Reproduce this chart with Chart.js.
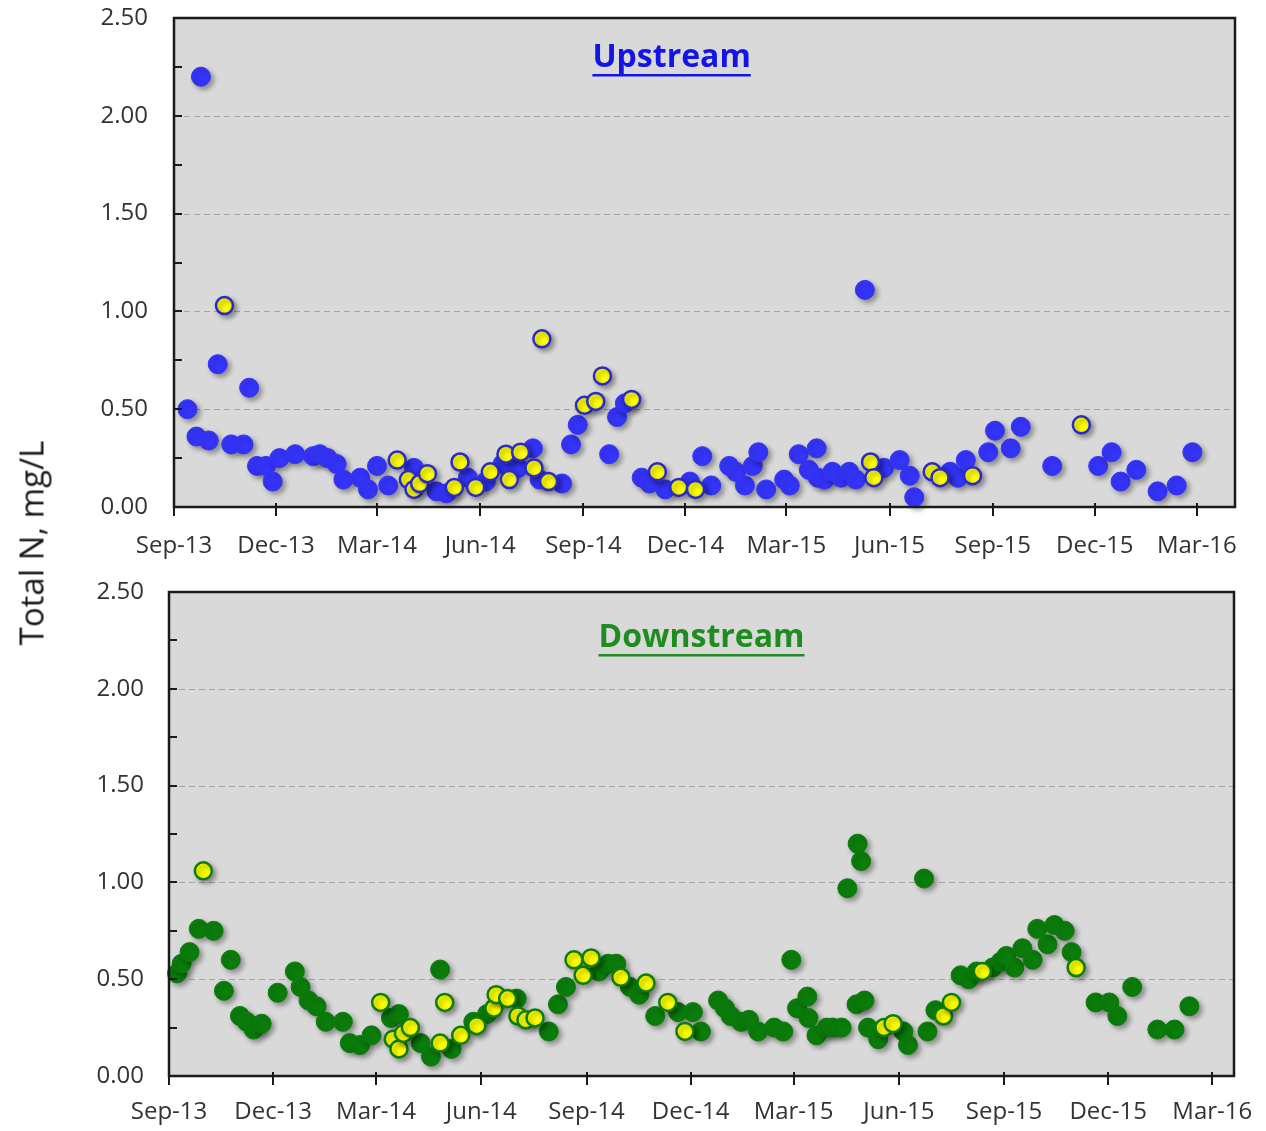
<!DOCTYPE html>
<html>
<head>
<meta charset="utf-8">
<script src="https://cdn.jsdelivr.net/npm/chart.js@4.4.0/dist/chart.umd.min.js"></script>
<style>
  body { margin: 0; background: #fff; width: 1266px; height: 1131px; position: relative; overflow: hidden; font-family: "Open Sans", sans-serif; }
  #upCanvas { position: absolute; left: 0; top: 0; }
  #downCanvas { position: absolute; left: 0; top: 570px; }
  #yTitle { position: absolute; left: 31px; top: 543px; transform: translate(-50%, -50%) rotate(-90deg); font-size: 33px; color: #1a1a1a; white-space: nowrap; }
</style>
</head>
<body>
<canvas id="upCanvas" width="1266" height="570"></canvas>
<canvas id="downCanvas" width="1266" height="561"></canvas>
<div id="yTitle">Total N, mg/L</div>
<script>
// Axis ticks
const xTickDates = ["2013-09-01", "2013-12-01", "2014-03-01", "2014-06-01", "2014-09-01", "2014-12-01",
  "2015-03-01", "2015-06-01", "2015-09-01", "2015-12-01", "2016-03-01"]
const yTickValues = [0, 0.5, 1, 1.5, 2, 2.5]
const yMinorTicks = [0.25, 0.5, 0.75, 1, 1.25, 1.5, 1.75, 2, 2.25]
const yGridValues = [0.5, 1, 1.5, 2]
const monthNames = ["Jan", "Feb", "Mar", "Apr", "May", "Jun", "Jul", "Aug", "Sep", "Oct", "Nov", "Dec"]

// Upstream samples (blue)
const upBlueDates = ["2013-09-13", "2013-09-21", "2013-09-25", "2013-10-02", "2013-10-10", "2013-10-22", "2013-11-02",
  "2013-11-07", "2013-11-14", "2013-11-22", "2013-11-28", "2013-12-04", "2013-12-18", "2014-01-03", "2014-01-09",
  "2014-01-16", "2014-01-24", "2014-01-30", "2014-02-14", "2014-02-21", "2014-03-01", "2014-03-11", "2014-04-03",
  "2014-04-23", "2014-05-02", "2014-05-21", "2014-06-06", "2014-06-21", "2014-07-05", "2014-07-18", "2014-07-24",
  "2014-08-13", "2014-08-21", "2014-08-27", "2014-09-24", "2014-10-01", "2014-10-08", "2014-10-23", "2014-10-30",
  "2014-11-13", "2014-12-05", "2014-12-16", "2014-12-24", "2015-01-09", "2015-01-15", "2015-01-23", "2015-01-30",
  "2015-02-04", "2015-02-11", "2015-02-27", "2015-03-04", "2015-03-12", "2015-03-21", "2015-03-28", "2015-03-29",
  "2015-04-04", "2015-04-11", "2015-04-19", "2015-04-26", "2015-05-02", "2015-05-10", "2015-05-27", "2015-06-10",
  "2015-06-19", "2015-06-23", "2015-07-25", "2015-08-01", "2015-08-08", "2015-08-28", "2015-09-03", "2015-09-17",
  "2015-09-26", "2015-10-24", "2015-12-04", "2015-12-16", "2015-12-24", "2016-01-07", "2016-01-26", "2016-02-12",
  "2016-02-26"]
const upBlueValues = [0.50, 0.36, 2.20, 0.34, 0.73, 0.32, 0.32,
  0.61, 0.21, 0.21, 0.13, 0.25, 0.27, 0.26, 0.27,
  0.25, 0.22, 0.14, 0.15, 0.09, 0.21, 0.11, 0.20,
  0.08, 0.07, 0.15, 0.13, 0.22, 0.20, 0.30, 0.14,
  0.12, 0.32, 0.42, 0.27, 0.46, 0.53, 0.15, 0.12,
  0.09, 0.13, 0.26, 0.11, 0.21, 0.18, 0.11, 0.21,
  0.28, 0.09, 0.14, 0.11, 0.27, 0.19, 0.30, 0.15,
  0.14, 0.18, 0.15, 0.18, 0.14, 1.11, 0.20, 0.24,
  0.16, 0.05, 0.18, 0.15, 0.24, 0.28, 0.39, 0.30,
  0.41, 0.21, 0.21, 0.28, 0.13, 0.19, 0.08, 0.11,
  0.28]

// Upstream samples (yellow)
const upYellowDates = ["2013-10-16", "2014-03-19", "2014-03-29", "2014-04-03", "2014-04-08", "2014-04-15", "2014-05-09",
  "2014-05-14", "2014-05-28", "2014-06-10", "2014-06-24", "2014-06-27", "2014-07-07", "2014-07-19", "2014-07-26",
  "2014-08-01", "2014-09-02", "2014-09-12", "2014-09-18", "2014-10-14", "2014-11-06", "2014-11-25", "2014-12-10",
  "2015-05-15", "2015-05-18", "2015-07-09", "2015-07-16", "2015-08-14", "2015-11-19"]
const upYellowValues = [1.03, 0.24, 0.14, 0.09, 0.12, 0.17, 0.10,
  0.23, 0.10, 0.18, 0.27, 0.14, 0.28, 0.20, 0.86,
  0.13, 0.52, 0.54, 0.67, 0.55, 0.18, 0.10, 0.09,
  0.23, 0.15, 0.18, 0.15, 0.16, 0.42]

// Downstream samples (green)
const downGreenDates = ["2013-09-08", "2013-09-12", "2013-09-19", "2013-09-27", "2013-10-10", "2013-10-19", "2013-10-25",
  "2013-11-02", "2013-11-08", "2013-11-14", "2013-11-21", "2013-12-05", "2013-12-20", "2013-12-25", "2014-01-01",
  "2014-01-08", "2014-01-16", "2014-01-31", "2014-02-06", "2014-02-15", "2014-02-25", "2014-03-14", "2014-03-21",
  "2014-04-09", "2014-04-18", "2014-04-26", "2014-05-06", "2014-05-25", "2014-06-06", "2014-07-02", "2014-07-30",
  "2014-08-07", "2014-08-14", "2014-09-12", "2014-09-20", "2014-09-27", "2014-10-09", "2014-10-17", "2014-10-31",
  "2014-11-20", "2014-12-03", "2014-12-10", "2014-12-25", "2014-12-31", "2015-01-05", "2015-01-14", "2015-01-21",
  "2015-01-29", "2015-02-12", "2015-02-20", "2015-02-27", "2015-03-04", "2015-03-13", "2015-03-14", "2015-03-21",
  "2015-03-30", "2015-04-04", "2015-04-12", "2015-04-17", "2015-04-25", "2015-04-26", "2015-04-29", "2015-05-02",
  "2015-05-05", "2015-05-14", "2015-06-05", "2015-06-09", "2015-06-23", "2015-06-26", "2015-07-03", "2015-07-25",
  "2015-08-01", "2015-08-08", "2015-08-22", "2015-08-29", "2015-09-03", "2015-09-10", "2015-09-17", "2015-09-26",
  "2015-09-30", "2015-10-09", "2015-10-15", "2015-10-24", "2015-10-30", "2015-11-20", "2015-12-02", "2015-12-09",
  "2015-12-22", "2016-01-13", "2016-01-28", "2016-02-10"]
const downGreenValues = [0.53, 0.58, 0.64, 0.76, 0.75, 0.44, 0.60,
  0.31, 0.28, 0.24, 0.27, 0.43, 0.54, 0.46, 0.39,
  0.36, 0.28, 0.28, 0.17, 0.16, 0.21, 0.30, 0.32,
  0.17, 0.10, 0.55, 0.14, 0.28, 0.32, 0.40, 0.23,
  0.37, 0.46, 0.54, 0.58, 0.58, 0.46, 0.42, 0.31,
  0.33, 0.33, 0.23, 0.39, 0.35, 0.31, 0.28, 0.29,
  0.23, 0.25, 0.23, 0.60, 0.35, 0.41, 0.30, 0.21,
  0.25, 0.25, 0.25, 0.97, 0.37, 1.20, 1.11, 0.39,
  0.25, 0.19, 0.23, 0.16, 1.02, 0.23, 0.34, 0.52,
  0.50, 0.54, 0.56, 0.59, 0.62, 0.56, 0.66, 0.60,
  0.76, 0.68, 0.78, 0.75, 0.64, 0.38, 0.38, 0.31,
  0.46, 0.24, 0.24, 0.36]

// Downstream samples (yellow)
const downYellowDates = ["2013-10-01", "2014-03-05", "2014-03-16", "2014-03-21", "2014-03-25", "2014-03-31", "2014-04-30",
  "2014-04-26", "2014-05-14", "2014-05-28", "2014-06-12", "2014-06-14", "2014-06-24", "2014-07-03", "2014-07-10",
  "2014-07-18", "2014-08-21", "2014-08-29", "2014-09-05", "2014-10-01", "2014-10-23", "2014-11-11", "2014-11-26",
  "2015-05-19", "2015-05-27", "2015-07-10", "2015-07-17", "2015-08-13", "2015-11-03"]
const downYellowValues = [1.06, 0.38, 0.19, 0.14, 0.22, 0.25, 0.38,
  0.17, 0.21, 0.26, 0.35, 0.42, 0.40, 0.31, 0.29,
  0.30, 0.60, 0.52, 0.61, 0.51, 0.48, 0.38, 0.23,
  0.25, 0.27, 0.31, 0.38, 0.54, 0.56]

const toPoints = (dates, values) => dates.map((d, i) => ({ x: Date.parse(d), y: values[i] }))

function fmtDate(ms) {
  const d = new Date(ms)
  return monthNames[d.getUTCMonth()] + "-" + String(d.getUTCFullYear()).slice(2)
}

// Grey plot area, dashed grid, black frame, inside y ticks, x ticks, inner title
const framePlugin = {
  id: "frame",
  beforeDraw(chart) {
    const { ctx, chartArea: a } = chart
    ctx.save()
    ctx.fillStyle = "#D9D9D9"
    ctx.fillRect(a.left, a.top, a.width, a.height)
    ctx.restore()
  },
  beforeDatasetsDraw(chart, args, o) {
    const { ctx, chartArea: a, scales } = chart
    ctx.save()
    ctx.strokeStyle = "#A3A3A3"
    ctx.lineWidth = 1
    ctx.setLineDash([6, 4])
    yGridValues.forEach(v => {
      const py = Math.round(scales.y.getPixelForValue(v)) + 0.5
      ctx.beginPath(); ctx.moveTo(a.left, py); ctx.lineTo(a.right, py); ctx.stroke()
    })
    ctx.setLineDash([])
    // title
    ctx.font = "bold 32px 'Open Sans'"
    ctx.fillStyle = o.color
    ctx.textAlign = "center"
    ctx.textBaseline = "middle"
    const tx = a.left + a.width * o.xFrac, ty = a.top + o.yOff
    ctx.fillText(o.text, tx, ty)
    const w = ctx.measureText(o.text).width
    ctx.fillRect(tx - w / 2, ty + 16, w, 2.5)
    ctx.restore()
  },
  afterDatasetsDraw(chart) {
    const { ctx, chartArea: a, scales } = chart
    ctx.save()
    ctx.strokeStyle = "#1a1a1a"
    ctx.lineWidth = 2.5
    ctx.strokeRect(a.left, a.top, a.width, a.height)
    ctx.lineWidth = 2
    yMinorTicks.forEach(v => {
      const py = Math.round(scales.y.getPixelForValue(v))
      ctx.beginPath(); ctx.moveTo(a.left, py); ctx.lineTo(a.left + 8, py); ctx.stroke()
    })
    xTickDates.forEach(d => {
      const px = Math.round(scales.x.getPixelForValue(Date.parse(d)))
      ctx.beginPath(); ctx.moveTo(px, a.bottom - 4); ctx.lineTo(px, a.bottom + 9); ctx.stroke()
    })
    ctx.restore()
  }
}

// Soft drop shadow under the markers
const shadowPlugin = {
  id: "shadow",
  beforeDatasetDraw(chart) {
    const ctx = chart.ctx
    ctx.save()
    ctx.shadowColor = "rgba(0,0,0,0.35)"
    ctx.shadowBlur = 5
    ctx.shadowOffsetX = 3
    ctx.shadowOffsetY = 3
  },
  afterDatasetDraw(chart) {
    chart.ctx.restore()
  }
}

// invisible tick marks are used as the gap between labels and axis
const hiddenGrid = len => ({
  display: true, drawOnChartArea: false, drawTicks: true,
  tickLength: len, tickColor: "rgba(0,0,0,0)", color: "rgba(0,0,0,0)"
})

function makeChart(canvasId, cfg) {
  return new Chart(document.getElementById(canvasId), {
    type: "scatter",
    data: {
      datasets: [
        {
          data: cfg.yellow, order: 0, clip: false,
          pointRadius: 8.5, pointHoverRadius: 8.5, pointBorderWidth: 2.5,
          pointBackgroundColor: "#FFFF00", pointBorderColor: cfg.edge
        },
        {
          data: cfg.main, order: 1, clip: false,
          pointRadius: 9.5, pointHoverRadius: 9.5, pointBorderWidth: 1,
          pointBackgroundColor: cfg.fill, pointBorderColor: cfg.fill
        }
      ]
    },
    options: {
      responsive: false,
      animation: false,
      devicePixelRatio: 1,
      layout: { padding: cfg.padding },
      plugins: {
        legend: { display: false },
        tooltip: { enabled: false },
        frame: cfg.title
      },
      scales: {
        x: {
          type: "linear",
          min: Date.parse("2013-09-01"),
          max: Date.parse(cfg.xMax),
          grid: hiddenGrid(cfg.xGap),
          border: { display: false },
          afterBuildTicks: s => { s.ticks = xTickDates.map(d => ({ value: Date.parse(d) })) },
          afterFit: s => { s.height = cfg.xHeight },
          ticks: {
            autoSkip: false, maxRotation: 0, minRotation: 0,
            padding: 0, color: "#333",
            font: { family: "'Open Sans'", size: 24 },
            callback: v => fmtDate(v)
          }
        },
        y: {
          min: 0, max: 2.5,
          grid: hiddenGrid(cfg.yGap),
          border: { display: false },
          afterBuildTicks: s => { s.ticks = yTickValues.map(v => ({ value: v })) },
          afterFit: s => { s.width = cfg.yWidth },
          ticks: {
            padding: 0, color: "#333",
            font: { family: "'Open Sans'", size: 24 },
            callback: v => v.toFixed(2)
          }
        }
      }
    },
    plugins: [framePlugin, shadowPlugin]
  })
}

document.addEventListener("DOMContentLoaded", () => {
  makeChart("upCanvas", {
    main: toPoints(upBlueDates, upBlueValues),
    yellow: toPoints(upYellowDates, upYellowValues),
    fill: "#3434FA", edge: "#2A2AC8",
    padding: { left: 0, top: 18, right: 31, bottom: 0 },
    xMax: "2016-04-04", xHeight: 63, xGap: 25, yWidth: 174, yGap: 26,
    title: { text: "Upstream", color: "#1414E6", xFrac: 0.469, yOff: 40 }
  })
  makeChart("downCanvas", {
    main: toPoints(downGreenDates, downGreenValues),
    yellow: toPoints(downYellowDates, downYellowValues),
    fill: "#0B7D0B", edge: "#0B7D0B",
    padding: { left: 0, top: 22, right: 32, bottom: 0 },
    xMax: "2016-03-20", xHeight: 55, xGap: 22, yWidth: 169, yGap: 25,
    title: { text: "Downstream", color: "#1E8C1E", xFrac: 0.5, yOff: 46 }
  })
})
</script>
</body>
</html>
